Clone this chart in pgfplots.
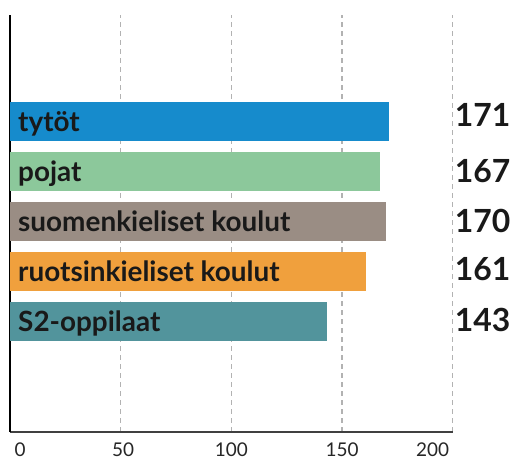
\documentclass[border=0pt]{standalone}
\usepackage{pgfplots}
\pgfplotsset{compat=1.18}
\usepackage{fontspec}
\setmainfont{Lato}
\definecolor{cblue}{HTML}{168BCC}
\definecolor{cgreen}{HTML}{8CC89B}
\definecolor{cgrey}{HTML}{9A8D84}
\definecolor{corange}{HTML}{F0A03D}
\definecolor{cteal}{HTML}{52949C}
\newcommand{\shl}[2]{\makebox[0pt]{\hspace*{#1}#2}}
\begin{document}
\begin{tikzpicture}
\path[use as bounding box] (0,0) rectangle (518bp,466bp);
\begin{axis}[
  at={(10bp,34bp)}, anchor=south west,
  scale only axis, width=442.7bp, height=417bp,
  xmin=0, xmax=200, ymin=-2.23, ymax=6.15,
  axis x line=bottom, axis y line=left,
  axis line style={-},
  x axis line style={draw=black!75, line width=1.2bp},
  y axis line style={draw=black, line width=2bp},
  xtick={0,50,100,150,200}, ytick=\empty,
  xticklabels={\shl{20bp}{0},\shl{5bp}{50},100,150,\shl{-40bp}{200}},
  major tick length=0pt,
  xmajorgrids,
  grid style={draw=black!30, line width=1.1bp, dash pattern=on 5bp off 4bp},
  xticklabel style={font=\fontsize{19}{19}\selectfont, yshift=-10bp, inner sep=1bp, text=black!85},
  xbar, bar width=39bp, bar shift=0pt,
  clip=false,
]
\addplot[draw=none, fill=cblue] coordinates {(171,4)};
\addplot[draw=none, fill=cgreen] coordinates {(167,3)};
\addplot[draw=none, fill=cgrey] coordinates {(170,2)};
\addplot[draw=none, fill=corange] coordinates {(161,1)};
\addplot[draw=none, fill=cteal] coordinates {(143,0)};
\begin{scope}[every node/.style={anchor=base west, inner sep=0pt, font=\fontsize{28}{28}\selectfont\bfseries, text=black!90}]
\node[xshift=8bp, yshift=-10bp] at (axis cs:0,4) {tytöt};
\node[xshift=8bp, yshift=-10bp] at (axis cs:0,3) {pojat};
\node[xshift=8bp, yshift=-10bp] at (axis cs:0,2) {suomenkieliset koulut};
\node[xshift=8bp, yshift=-10bp] at (axis cs:0,1) {ruotsinkieliset koulut};
\node[xshift=8bp, yshift=-10bp] at (axis cs:0,0) {S2-oppilaat};
\end{scope}
\begin{scope}[every node/.style={anchor=base west, inner sep=0pt, font=\fontsize{32}{32}\selectfont\bfseries, text=black!90}]
\node[xshift=2bp] at (axis cs:200,3.90) {171};
\node[xshift=2bp] at (axis cs:200,2.78) {167};
\node[xshift=2bp] at (axis cs:200,1.78) {170};
\node[xshift=2bp] at (axis cs:200,0.82) {161};
\node[xshift=2bp] at (axis cs:200,-0.22) {143};
\end{scope}
\end{axis}
\end{tikzpicture}
\end{document}
